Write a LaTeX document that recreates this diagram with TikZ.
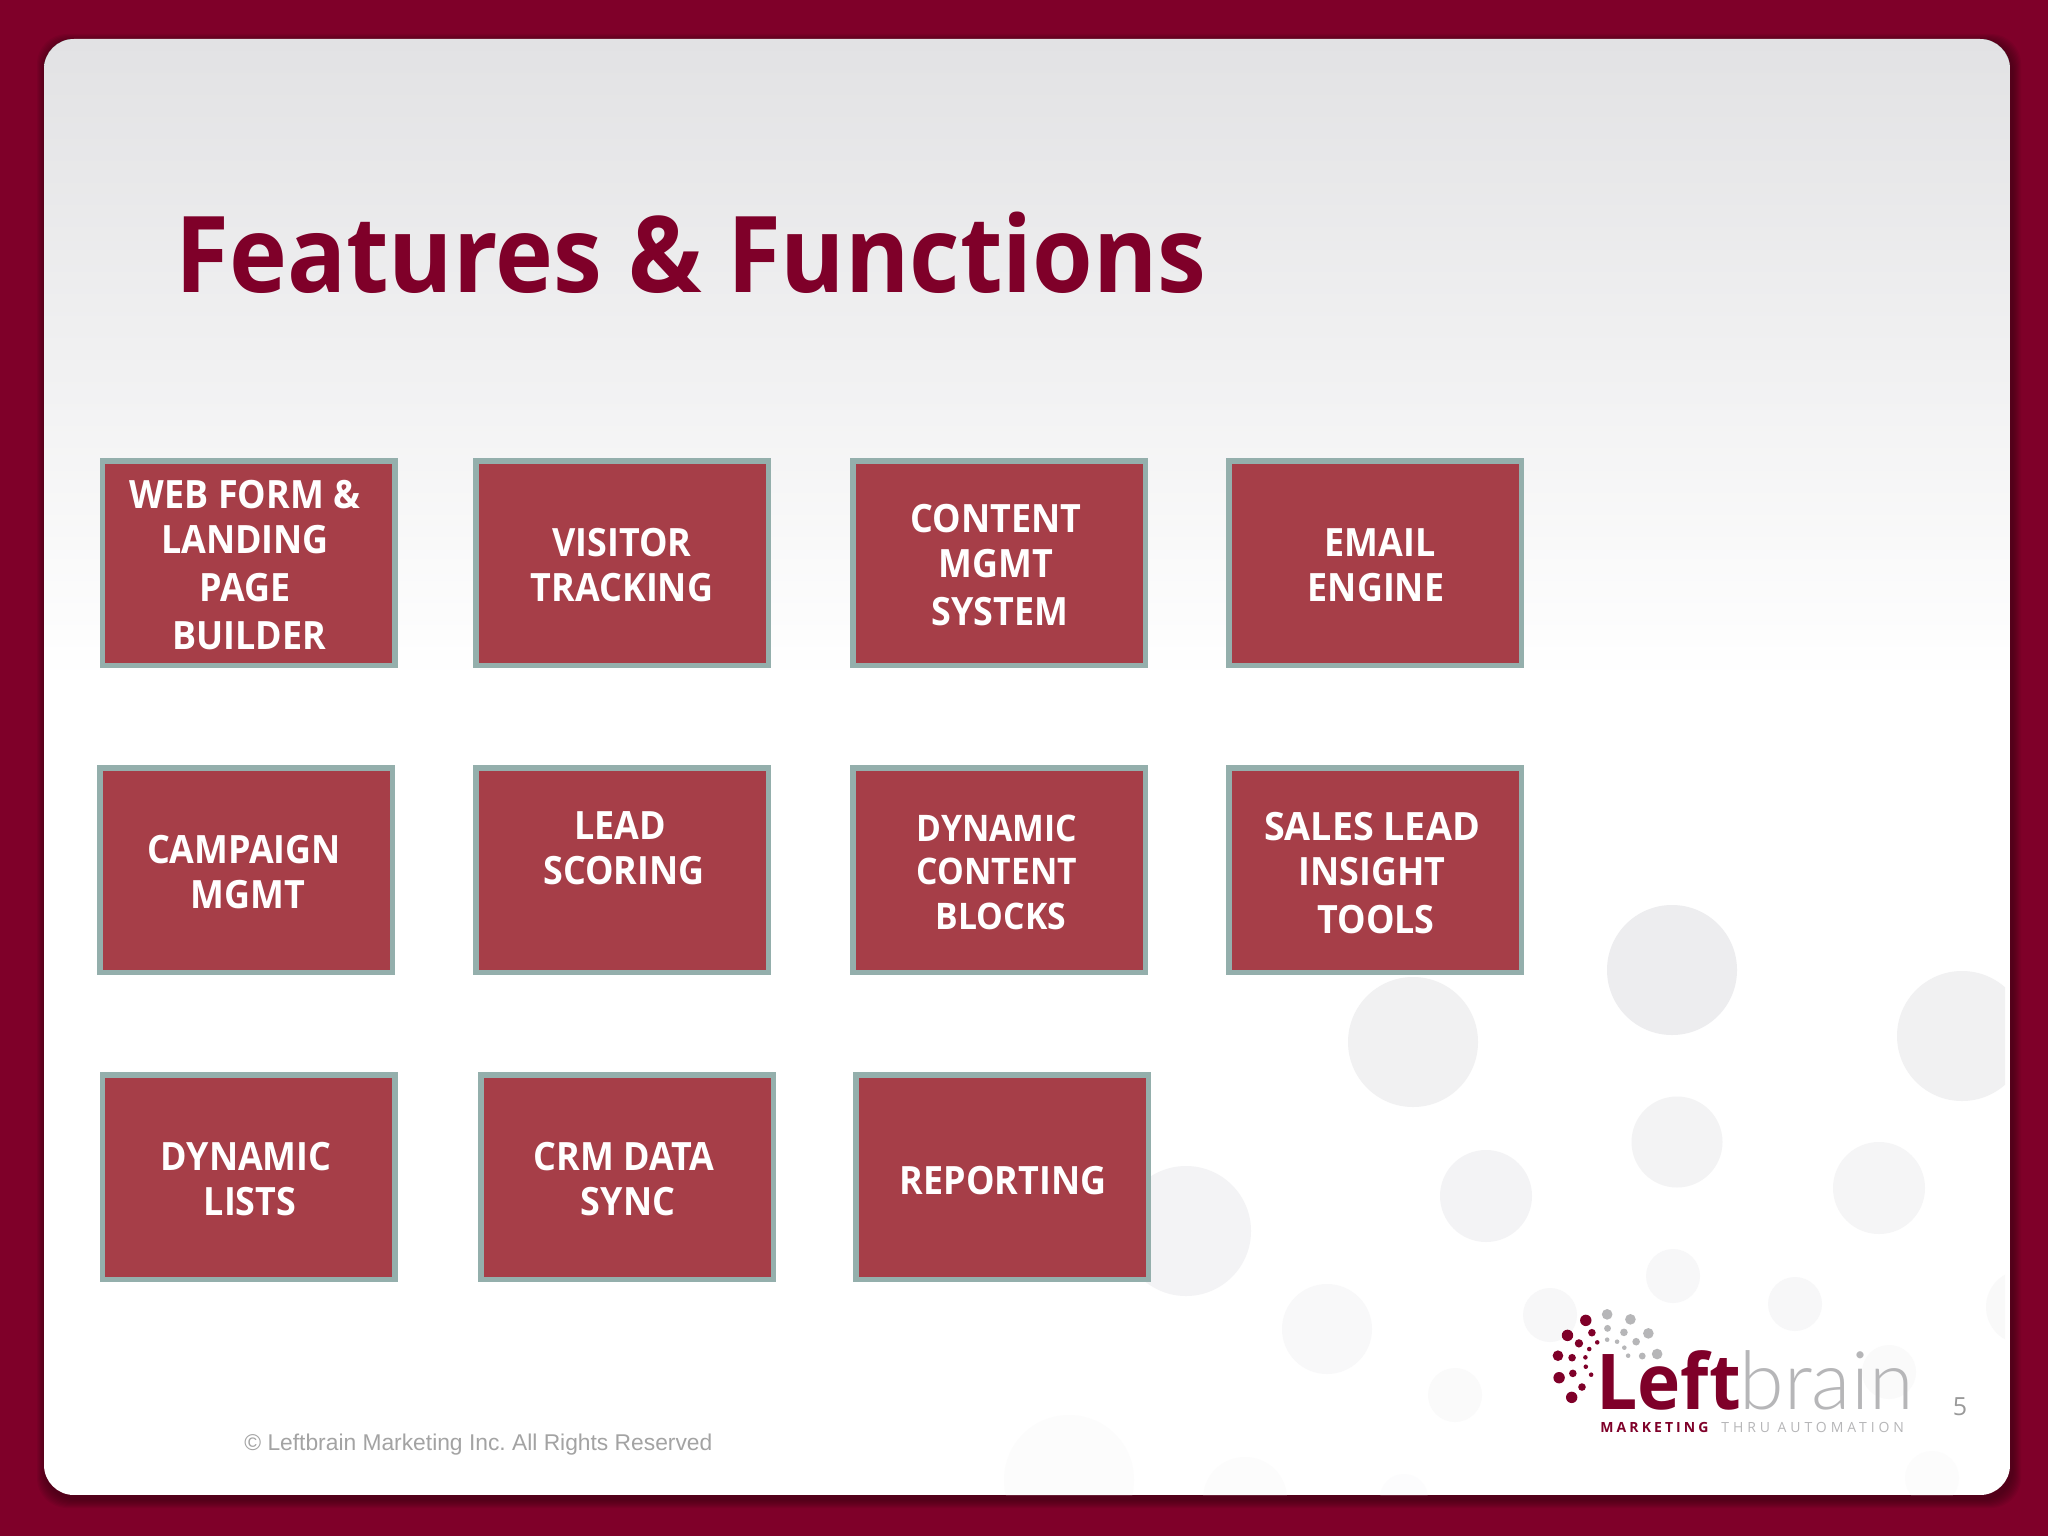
\documentclass[tikz,border=0pt]{standalone}
\usepackage{fontspec}
\setmainfont{Open Sans}
\newfontfamily\titlefont[FakeStretch=0.925]{Open Sans}
\newfontfamily\boxfont[FakeStretch=0.92]{Open Sans}
\newfontfamily\footfont{Liberation Sans}
\newfontfamily\lightfont{Lato Light}
\definecolor{maroon}{HTML}{7F0029}
\definecolor{shadowtone}{HTML}{2E0010}
\definecolor{boxred}{HTML}{A63E48}
\definecolor{boxedge}{HTML}{94AFAC}
\definecolor{bubbletone}{HTML}{EDEDEF}
\definecolor{logogray}{HTML}{B6B6B8}
\definecolor{cardtop}{HTML}{E2E2E4}
\tikzset{
  featurebox/.style={draw=boxedge,fill=boxred,line width=2.75pt,rectangle,minimum width=146.25pt,minimum height=102.25pt,inner sep=0pt},
  boxlabel/.style={text=white,align=center,inner sep=0pt,font=\boxfont\bfseries\fontsize{19.5pt}{24pt}\selectfont},
  smallboxlabel/.style={boxlabel,font=\boxfont\bfseries\fontsize{18.3pt}{24pt}\selectfont},
  logotext/.style={anchor=base west,inner sep=0pt},
}
\newcommand\nudge{\hspace*{4pt}}
\begin{document}
\begin{tikzpicture}[x=0.5pt,y=-0.5pt]
\useasboundingbox (0,0) rectangle (2048,1536);
\fill[maroon] (0,0) rectangle (2048,1536);
% card shadow
\foreach \i in {1,...,9}
  \fill[shadowtone,opacity=0.075,rounded corners=15pt] ({44+2-\i},{39+4-\i}) rectangle ({2010+2+\i},{1495+4+\i});
% card
\begin{scope}
\clip[rounded corners=15pt] (44,39) rectangle (2010,1495);
\fill[white] (44,39) rectangle (2010,1495);
\fill[top color=cardtop,bottom color=white] (44,39) rectangle (2010,680);
\clip (44,39) rectangle (2005,1495);
\foreach \x/\y/\r/\p in {1672/970/65/100,1413/1042/65/80,1962/1036/65/80,1677/1142/45.5/70,1486/1196/46/65,1879/1188/46/55,1186/1231/65/65,1327/1329/45/38,1673/1276/27/45,1795/1304/27/45,1550/1315/27/45,1455/1395/27/30,2023/1307/37/35,1889/1372/27/30,1069/1480/65/17,1245/1499/42/17,1404/1498/24/15,1932/1478/27/17}
  \fill[bubbletone!\p!white] (\x,\y) circle[radius=\r*0.5pt];
\end{scope}
% title
\node[anchor=base west,inner sep=0pt,text=maroon,font=\titlefont\bfseries\fontsize{53pt}{53pt}\selectfont] (title) at (175,292) {Features \& Functions};
% feature boxes
\node[featurebox] (b1) at (248.5,563) {};
\node[featurebox] (b2) at (622,563) {};
\node[featurebox] (b3) at (999,563) {};
\node[featurebox] (b4) at (1375,563) {};
\node[featurebox] (b5) at (246,870) {};
\node[featurebox] (b6) at (622,870) {};
\node[featurebox] (b7) at (999,870) {};
\node[featurebox] (b8) at (1375,870) {};
\node[featurebox] (b9) at (248.5,1177) {};
\node[featurebox] (b10) at (627,1177) {};
\node[featurebox] (b11) at (1002,1177) {};
\node[boxlabel] (t1) at (245,565) {WEB FORM \&\\[-1.3pt]LANDING\\PAGE\\\nudge BUILDER};
\node[boxlabel] (t2) at (622,565) {VISITOR\\[-1.3pt]TRACKING};
\node[boxlabel] (t3) at (996,565) {CONTENT\\[-1.8pt]MGMT\\\nudge SYSTEM};
\node[boxlabel] (t4) at (1376,565) {\nudge EMAIL\\[-1.3pt]ENGINE};
\node[boxlabel] (t5) at (244,872) {CAMPAIGN\\[-1.3pt]\nudge MGMT};
\node[boxlabel] (t6) at (620,848) {LEAD\\[-1.3pt]\nudge SCORING};
\node[smallboxlabel] (t7) at (997,872) {DYNAMIC\\[-2.5pt]CONTENT\\[-1.5pt]\nudge BLOCKS};
\node[boxlabel] (t8) at (1372,873) {\scalebox{1.05}[1]{SALES LEAD}\\[-1.3pt]INSIGHT\\\nudge TOOLS};
\node[boxlabel] (t9) at (246,1179) {DYNAMIC\\[-1.3pt]\nudge LISTS};
\node[boxlabel] (t10) at (624,1179) {CRM DATA\\[-1.3pt]\nudge SYNC};
\node[boxlabel] (t11) at (1003,1181) {REPORTING};
% footer
\node[anchor=base west,inner sep=0pt,text=black!36!white,font=\footfont\fontsize{11.4pt}{14pt}\selectfont\frenchspacing] (copy) at (244,1450) {© Leftbrain Marketing Inc. All Rights Reserved};
\node[anchor=base,inner sep=0pt,text=black!40!white,font=\fontsize{12.5pt}{14pt}\selectfont] (page) at (1960,1415) {5};
% logo
\begin{scope}[shift={(1450,1260)},x=0.1907pt,y=-0.1667pt]
\foreach \x/\y/\r in {356/181/15,308/226/15,372/218/10,338/250/11,386/247/6,365/267/6,283/287/14,320/293/10,355/292/6,356/320/6,286/353/15,322/340/10,370/344/6,346/381/10,319/412/15}
  \fill[maroon] (\x,\y) circle[radius=\r*0.19pt];
\foreach \x/\y/\r in {412/163/14,473/178/14,520/220/14,543/282/14,413/205/9,456/217/10,488/245/10,504/288/9,412/239/6,438/245/6,457/263/6,467/287/6}
  \fill[logogray] (\x,\y) circle[radius=\r*0.19pt];
\end{scope}
\node[logotext,text=maroon,font=\bfseries\fontsize{38.5pt}{40pt}\selectfont] (left) at (1596,1409) {\scalebox{0.95}[1]{Left}};
\node[logotext,text=logogray,font=\lightfont\fontsize{40.5pt}{46pt}\selectfont] (brain) at (1739,1409) {brain};
\node[logotext,text=maroon,font=\bfseries\fontsize{7pt}{8pt}\selectfont\addfontfeature{LetterSpace=22}] (tagA) at (1600,1432) {MARKETING};
\node[logotext,text=logogray,font=\fontsize{7pt}{8pt}\selectfont\addfontfeature{LetterSpace=28}] (tagB) at (1721,1432) {THRU AUTOMATION};
\end{tikzpicture}
\end{document}
